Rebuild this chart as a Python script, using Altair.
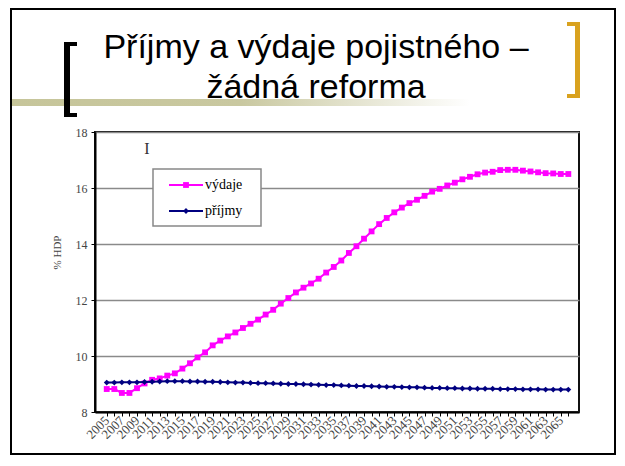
import altair as alt
import pandas as pd

# ---- data ----
title_lines = ["Příjmy a výdaje pojistného –", "žádná reforma"]
series_names = ["výdaje", "příjmy"]
series_colors = ["#ff00ff", "#000080"]
series_shapes = ["square", "diamond"]
y_title = "% HDP"
y_ticks = [8, 10, 12, 14, 16, 18]

years = list(range(2005, 2067))
vydaje = [8.82, 8.82, 8.68, 8.68, 8.85, 9.02, 9.15, 9.20, 9.30, 9.38,
          9.55, 9.74, 9.95, 10.13, 10.38, 10.55, 10.70, 10.84, 11.00, 11.15,
          11.30, 11.48, 11.65, 11.87, 12.07, 12.27, 12.44, 12.59, 12.76, 12.98,
          13.18, 13.41, 13.68, 13.92, 14.19, 14.45, 14.71, 14.93, 15.13, 15.30,
          15.46, 15.58, 15.72, 15.87, 15.97, 16.09, 16.19, 16.31, 16.40, 16.49,
          16.55, 16.58, 16.64, 16.65, 16.65, 16.62, 16.59, 16.56, 16.53, 16.52,
          16.50, 16.50]
prijmy = [9.05, 9.05, 9.06, 9.06, 9.06, 9.07, 9.08, 9.09, 9.10, 9.10,
          9.10, 9.09, 9.09, 9.08, 9.08, 9.07, 9.06, 9.05, 9.05, 9.04,
          9.03, 9.03, 9.02, 9.01, 9.00, 9.00, 8.99, 8.98, 8.97, 8.96,
          8.96, 8.95, 8.94, 8.93, 8.93, 8.92, 8.91, 8.90, 8.90, 8.89,
          8.88, 8.88, 8.87, 8.86, 8.86, 8.85, 8.85, 8.84, 8.84, 8.83,
          8.83, 8.83, 8.82, 8.82, 8.82, 8.81, 8.81, 8.81, 8.80, 8.80,
          8.80, 8.80]

df = pd.DataFrame({
    "rok": years + years,
    "hodnota": vydaje + prijmy,
    "serie": [series_names[0]] * len(years) + [series_names[1]] * len(years),
})

SERIF = "Liberation Serif"
SANS = "Liberation Sans"

x_enc = alt.X(
    "rok:Q",
    scale=alt.Scale(domain=[2003.45, 2067.41], nice=False, zero=False),
    axis=alt.Axis(
        values=years, title="",
        labelExpr="datum.value % 2 == 1 ? '' + datum.value : ''",
        labelAngle=315, labelAlign="right", labelBaseline="middle",
        labelFont=SERIF, labelFontSize=13, labelColor="#444",
        labelOverlap=False, labelFlush=False, labelBound=False, labelPadding=2,
        tickSize=4, tickColor="#000", tickWidth=1,
        domainColor="#000", domainWidth=2, grid=False,
    ),
)
y_enc = alt.Y(
    "hodnota:Q",
    scale=alt.Scale(domain=[8, 18], nice=False, zero=False),
    axis=alt.Axis(
        values=y_ticks, format="d", title=y_title,
        labelFont=SERIF, labelFontSize=12, labelColor="#444", labelPadding=4,
        tickSize=4, tickColor="#000", domainColor="#000", domainWidth=2,
        grid=True, gridColor="#8a8a8a", gridWidth=1.5,
        titleFont=SERIF, titleFontSize=11, titleFontWeight="normal", titleColor="#444",
        titleX=-38, titleY=120, titleAngle=270, titleAlign="center", titleBaseline="middle",
    ),
)
color_enc = alt.Color("serie:N", scale=alt.Scale(domain=series_names, range=series_colors), legend=None)
shape_enc = alt.Shape("serie:N", scale=alt.Scale(domain=series_names, range=series_shapes), legend=None)

base = alt.Chart(df).encode(x=x_enc, y=y_enc, color=color_enc)

data_layers = []
for name in series_names:
    sub = base.transform_filter(alt.datum.serie == name)
    data_layers.append(sub.mark_line(strokeWidth=2))
    data_layers.append(sub.mark_point(filled=True, opacity=1, size=34).encode(shape=shape_enc))

one = alt.Data(values=[{"k": 1}])

def rect(x1, x2, y1, y2, **kw):
    return alt.Chart(one).mark_rect(**kw).encode(
        x=alt.value(x1), x2=alt.value(x2), y=alt.value(y1), y2=alt.value(y2))

deco = []
# slide border
deco.append(rect(-84, 520, -123, 322, filled=False, stroke="#000", strokeWidth=2))
# olive gradient bar under title
deco.append(rect(-83, 375, -33, -26, fill=alt.Gradient(
    gradient="linear", x1=0, x2=1, y1=0, y2=0,
    stops=[alt.GradientStop(color="#c6c59a", offset=0),
           alt.GradientStop(color="#c9c8a0", offset=0.5),
           alt.GradientStop(color="#ffffff", offset=1)])))
# black bracket
deco.append(rect(-31, -25, -90, -15, color="#000"))
deco.append(rect(-31, -18, -90, -86, color="#000"))
deco.append(rect(-31, -18, -19, -15, color="#000"))
# gold bracket
deco.append(rect(480, 485, -110, -34, color="#d9a21f"))
deco.append(rect(472, 485, -110, -106, color="#d9a21f"))
deco.append(rect(472, 485, -38, -34, color="#d9a21f"))

# title
for i, line in enumerate(title_lines):
    deco.append(alt.Chart(pd.DataFrame({"t": [line]})).mark_text(
        font=SANS, fontSize=34, color="#000", align="center", baseline="alphabetic"
    ).encode(x=alt.value(221), y=alt.value(-74 + 40 * i), text="t:N"))

# I-beam glyph
deco.append(alt.Chart(pd.DataFrame({"t": ["I"]})).mark_text(
    font=SERIF, fontSize=16, color="#333", align="center", baseline="middle"
).encode(x=alt.value(52), y=alt.value(17), text="t:N"))

# legend
leg = [rect(58, 166, 37, 94, fill="#fff", stroke="#888", strokeWidth=1.5)]
for i, (name, col, shp) in enumerate(zip(series_names, series_colors, series_shapes)):
    yy = 53 + 26 * i
    leg.append(alt.Chart(one).mark_rule(color=col, strokeWidth=2).encode(
        x=alt.value(74), x2=alt.value(108), y=alt.value(yy)))
    leg.append(alt.Chart(one).mark_point(filled=True, opacity=1, shape=shp, size=34, color=col).encode(
        x=alt.value(91), y=alt.value(yy)))
    leg.append(alt.Chart(pd.DataFrame({"t": [name]})).mark_text(
        font=SERIF, fontSize=14, color="#000", align="left", baseline="middle"
    ).encode(x=alt.value(110), y=alt.value(yy), text="t:N"))

chart = alt.layer(*deco, *data_layers, *leg).properties(
    width=484, height=280,
    autosize=alt.AutoSizeParams(type="none"),
    padding={"left": 87, "top": 124, "right": 37, "bottom": 44},
    background="#ffffff",
).configure_view(stroke="#111", strokeWidth=2)

chart.save("out.html", embed_options={"renderer": "svg", "actions": False})
